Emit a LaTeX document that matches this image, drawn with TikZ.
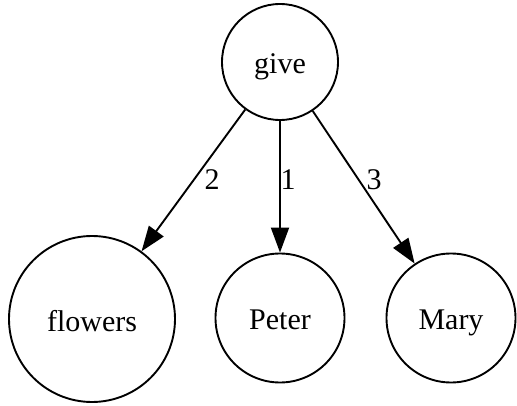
\documentclass[tikz,border=0pt]{standalone}
\usepackage{fontspec}
\setmainfont{Liberation Serif}
\usetikzlibrary{arrows.meta}
\begin{document}
\begin{tikzpicture}[x=1pt,y=-1pt,
  vertex/.style={draw,circle,line width=1.9pt,inner sep=0pt,text height=27pt,text depth=3pt,font=\fontsize{30}{36}\selectfont},
  arc/.style={line width=1.9pt,-{Triangle[length=25pt,width=18pt]}},
  lbl/.style={font=\fontsize{30}{36}\selectfont,inner sep=0pt}]
\useasboundingbox (0,0) rectangle (517,406);
\node[vertex,minimum size=116pt] (give) at (280,62) {give};
\node[vertex,minimum size=166pt] (flowers) at (92,319) {flowers};
\node[vertex,minimum size=129pt] (peter) at (280,318) {Peter};
\node[vertex,minimum size=129pt] (mary) at (451,318) {Mary};
\draw[arc] (give) -- (flowers);
\draw[arc] (give) -- (peter);
\draw[arc] (give) -- (mary);
\node[lbl] (l2) at (212,180) {2};
\node[lbl] (l1) at (288,180) {1};
\node[lbl] (l3) at (374,180) {3};
\end{tikzpicture}
\end{document}
